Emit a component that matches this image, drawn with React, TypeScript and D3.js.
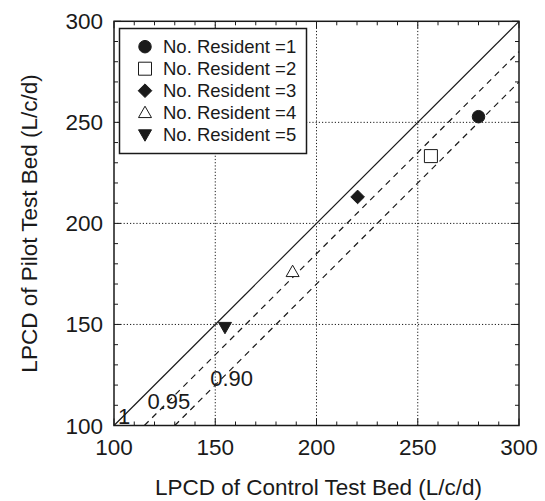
import React from "react";
import * as d3 from "d3";

const residents = ["No. Resident =1", "No. Resident =2", "No. Resident =3", "No. Resident =4", "No. Resident =5"];
const controlLPCD = [280, 256.5, 220.3, 188.2, 154.8];
const pilotLPCD = [252.8, 233.3, 213.1, 176.1, 148.6];
const markerShapes = ["circle", "square", "diamond", "triUp", "triDown"];
const markerFilled = [true, false, true, false, true];

const ratioLabels = ["1", "0.95", "0.90"];
const ratioValues = [1, 0.95, 0.9];
const ratioLabelX = [102, 116.5, 147.5];
const ratioLabelY = [100.5, 108, 119.5];

const majorTicks = [100, 150, 200, 250, 300];
const gridTicks = [150, 200, 250];
const minorTicks = d3.range(100, 301, 10);

const W = 545, H = 501;
const m = { left: 114, right: 519, top: 21.3, bottom: 425.5 };
const FONT = "'Liberation Sans', Arial, Helvetica, sans-serif";
const INK = "#1a1a1a";

function markerPath(shape: string, s: number): string {
  const h = s / 2;
  switch (shape) {
    case "square":
      return `M${-h},${-h}H${h}V${h}H${-h}Z`;
    case "diamond":
      return `M0,${-h * 1.05}L${h * 1.05},0L0,${h * 1.05}L${-h * 1.05},0Z`;
    case "triUp":
      return `M0,${-h}L${h},${h * 0.75}L${-h},${h * 0.75}Z`;
    case "triDown":
      return `M0,${h}L${h},${-h * 0.75}L${-h},${-h * 0.75}Z`;
    default:
      return d3.symbol(d3.symbolCircle, Math.PI * h * h)() as string;
  }
}

function Marker({ shape, filled, x, y }: { shape: string; filled: boolean; x: number; y: number }) {
  const size = shape === "circle" ? 12.5 : 13;
  return (
    <path
      d={markerPath(shape, size)}
      transform={`translate(${x},${y})`}
      fill={filled ? INK : "#fff"}
      stroke={INK}
      strokeWidth={1}
    />
  );
}

export default function App() {
  const x = d3.scaleLinear().domain([100, 300]).range([m.left, m.right]);
  const y = d3.scaleLinear().domain([100, 300]).range([m.bottom, m.top]);

  const line = d3.line<[number, number]>().x((d) => x(d[0])).y((d) => y(d[1]));

  // Ratio reference lines: parallel to 1:1, passing through (300, 300*r)
  const refLines = ratioValues.map((r) => {
    const off = 300 - 300 * r;
    const pts: [number, number][] = [
      [100 + off, 100],
      [300, 300 - off],
    ];
    return pts;
  });

  const legendX = 119.5, legendY = 28.5, legendW = 187, legendH = 125;

  return (
    <svg width={W} height={H} style={{ position: "absolute", left: 0, top: 0, background: "#fff" }} fontFamily={FONT}>
      <rect x={0} y={0} width={W} height={H} fill="#fff" />
      {/* grid */}
      {gridTicks.map((t) => (
        <g key={"g" + t}>
          <line x1={x(t)} x2={x(t)} y1={m.top} y2={m.bottom} stroke={INK} strokeWidth={1} strokeDasharray="1.2,2" />
          <line x1={m.left} x2={m.right} y1={y(t)} y2={y(t)} stroke={INK} strokeWidth={1} strokeDasharray="1.2,2" />
        </g>
      ))}
      {/* ticks */}
      {minorTicks.map((t) => {
        const major = majorTicks.includes(t);
        const L = major ? 7 : 4;
        return (
          <g key={"t" + t} stroke={INK} strokeWidth={1}>
            <line x1={x(t)} x2={x(t)} y1={m.bottom} y2={m.bottom - L} />
            <line x1={x(t)} x2={x(t)} y1={m.top} y2={m.top + L} />
            <line x1={m.left} x2={m.left + L} y1={y(t)} y2={y(t)} />
            <line x1={m.right} x2={m.right - L} y1={y(t)} y2={y(t)} />
          </g>
        );
      })}
      {/* reference lines */}
      {refLines.map((pts, i) => (
        <path
          key={"r" + i}
          d={line(pts) as string}
          fill="none"
          stroke={INK}
          strokeWidth={1.2}
          strokeDasharray={i === 0 ? undefined : "6,5"}
        />
      ))}
      {ratioLabels.map((lab, i) => (
        <text key={"rl" + i} x={x(ratioLabelX[i])} y={y(ratioLabelY[i])} fontSize={22} fill={INK}>
          {lab}
        </text>
      ))}
      {/* data points */}
      {controlLPCD.map((cv, i) => (
        <Marker key={"p" + i} shape={markerShapes[i]} filled={markerFilled[i]} x={x(cv)} y={y(pilotLPCD[i])} />
      ))}
      {/* frame */}
      <rect x={m.left} y={m.top} width={m.right - m.left} height={m.bottom - m.top} fill="none" stroke={INK} strokeWidth={1.5} />
      {/* legend */}
      <rect x={legendX} y={legendY} width={legendW} height={legendH} fill="#fff" stroke={INK} strokeWidth={1.5} />
      {residents.map((r, i) => (
        <g key={"l" + i}>
          <Marker shape={markerShapes[i]} filled={markerFilled[i]} x={145} y={46.7 + i * 22} />
          <text x={163} y={46.7 + i * 22 + 6.5} fontSize={18.5} fill={INK}>
            {r}
          </text>
        </g>
      ))}
      {/* tick labels */}
      {majorTicks.map((t) => (
        <g key={"tl" + t}>
          <text x={x(t)} y={455} fontSize={22.5} textAnchor="middle" fill={INK}>
            {t}
          </text>
          <text x={103} y={y(t) + 8} fontSize={22.5} textAnchor="end" fill={INK}>
            {t}
          </text>
        </g>
      ))}
      {/* axis titles */}
      <text x={(m.left + m.right) / 2 + 2} y={495} fontSize={22.5} textAnchor="middle" fill={INK}>
        LPCD of Control Test Bed (L/c/d)
      </text>
      <text
        transform={`translate(37,${(m.top + m.bottom) / 2}) rotate(-90)`}
        fontSize={22.5}
        textAnchor="middle"
        fill={INK}
      >
        LPCD of Pilot Test Bed (L/c/d)
      </text>
    </svg>
  );
}
